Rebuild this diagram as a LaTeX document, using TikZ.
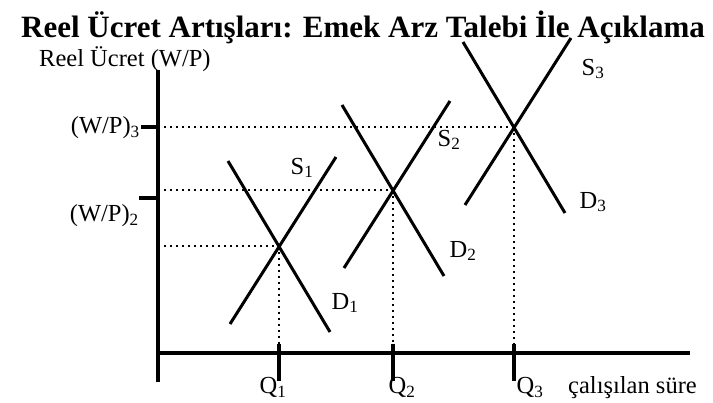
\documentclass[tikz,border=0pt]{standalone}
\usepackage{fontspec}
\setmainfont{Liberation Serif}
\usetikzlibrary{calc}
\usetikzlibrary{positioning}

\begin{document}
\begin{tikzpicture}[x=1pt, y=-1pt,
    axisline/.style={line width=3.5pt},
    curveline/.style={line width=3pt},
    guideline/.style={line width=2pt, dash pattern=on 2pt off 4pt},
    lbl/.style={font=\fontsize{24.5}{28}\selectfont, inner sep=0pt}]
    \useasboundingbox (0,0) rectangle (713,403);

    \node [font=\bfseries\fontsize{31}{36}\selectfont, anchor=base, inner sep=0pt] (title) at (363,38) {Reel Ücret Artışları: Emek Arz Talebi İle Açıklama};
    \node [lbl, anchor=base west] (ylabel) at (39,67) {Reel Ücret (W/P)};

    \coordinate (origin) at (158,353);
    \coordinate (ytop) at (158,70);
    \coordinate (ybottom) at (158,382);
    \coordinate (xend) at (690,353);
    \draw [axisline] (ytop) -- (ybottom);
    \draw [axisline] (origin) -- (xend);

    \coordinate (eq1) at (279,246);
    \coordinate (eq2) at (393,190);
    \coordinate (eq3) at (514,127);

    \foreach \i/\qdx in {1/-6, 2/9, 3/16} {
        \draw [curveline] ($(eq\i)+(-49,78)$) -- ($(eq\i)+(57,-89)$);
        \draw [curveline] ($(eq\i)+(-51,-85)$) -- ($(eq\i)+(51,86)$);
        \draw [guideline] (eq\i -| origin) -- (eq\i);
        \draw [guideline] (eq\i) -- (eq\i |- origin);
        \draw [axisline] ($(eq\i |- origin)+(0,-9)$) -- ($(eq\i |- origin)+(0,28)$);
        \node [lbl, anchor=base] (q\i) at ($(eq\i |- origin)+(\qdx,41)$) {Q\textsubscript{\i}};
    }

    \node [lbl, anchor=base west] (xlabel) at (568,394) {çalışılan süre};

    \coordinate (tick3) at (141,127);
    \coordinate (tick2) at (139,198);
    \draw [axisline] (tick3) -- (tick3 -| origin);
    \draw [axisline] (tick2) -- (tick2 -| origin);
    \node [lbl, anchor=base east] (wp3) at (140,134) {(W/P)\textsubscript{3}};
    \node [lbl, anchor=base east] (wp2) at (139,222) {(W/P)\textsubscript{2}};

    \node [lbl] (s1) at (302,168) {S\textsubscript{1}};
    \node [lbl] (d1) at (345,303) {D\textsubscript{1}};
    \node [lbl] (s2) at (449,140) {S\textsubscript{2}};
    \node [lbl] (d2) at (463,251) {D\textsubscript{2}};
    \node [lbl] (s3) at (593,69) {S\textsubscript{3}};
    \node [lbl] (d3) at (593,202) {D\textsubscript{3}};
\end{tikzpicture}
\end{document}
